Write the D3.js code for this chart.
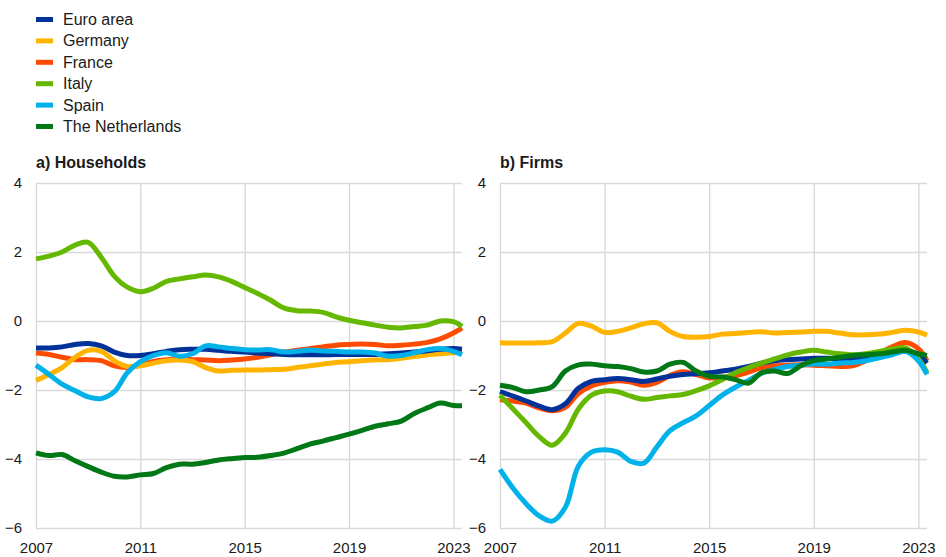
<!DOCTYPE html>
<html>
<head>
<meta charset="utf-8">
<script src="https://cdn.jsdelivr.net/npm/d3@7"></script>
<style>
  body { margin: 0; background: #fff; }
  svg { display: block; }
  text { font-family: Arial, "Liberation Sans", sans-serif; fill: #1a1a1a; }
</style>
</head>
<body>
<svg id="chart" width="946" height="557"></svg>
<script>
// Observation dates (decimal years, half-yearly, last point early 2023)
const periods = [2007.0, 2007.5, 2008.0, 2008.5, 2009.0, 2009.5, 2010.0, 2010.5,
  2011.0, 2011.5, 2012.0, 2012.5, 2013.0, 2013.5, 2014.0, 2014.5, 2015.0, 2015.5,
  2016.0, 2016.5, 2017.0, 2017.5, 2018.0, 2018.5, 2019.0, 2019.5, 2020.0, 2020.5,
  2021.0, 2021.5, 2022.0, 2022.5, 2023.0, 2023.33];

const seriesNames = ["Euro area", "Germany", "France", "Italy", "Spain", "The Netherlands"];
const seriesColors = ["#003299", "#ffb400", "#ff4b00", "#65b800", "#00b1ea", "#007816"];

const xTickValues = [2007, 2011, 2015, 2019, 2023];
const yTickValues = [-6, -4, -2, 0, 2, 4];

// a) Households
const hhEuroArea = [-0.78, -0.78, -0.75, -0.68, -0.65, -0.72, -0.9, -1.0, -1.0, -0.95, -0.88, -0.83,
  -0.82, -0.82, -0.85, -0.88, -0.9, -0.93, -0.95, -0.97, -0.98, -0.98, -0.98, -0.97, -0.97, -0.97,
  -0.97, -0.95, -0.93, -0.9, -0.86, -0.82, -0.8, -0.82];
const hhGermany = [-1.72, -1.55, -1.35, -1.05, -0.85, -0.88, -1.15, -1.32, -1.3, -1.22, -1.15, -1.13,
  -1.18, -1.35, -1.45, -1.43, -1.42, -1.42, -1.41, -1.4, -1.35, -1.3, -1.25, -1.2, -1.18, -1.15,
  -1.13, -1.12, -1.08, -1.03, -0.98, -0.95, -0.92, -0.88];
const hhFrance = [-0.93, -0.97, -1.05, -1.12, -1.12, -1.15, -1.3, -1.35, -1.28, -1.17, -1.12, -1.1,
  -1.12, -1.13, -1.15, -1.13, -1.1, -1.05, -0.98, -0.9, -0.85, -0.8, -0.75, -0.7, -0.68, -0.67,
  -0.68, -0.72, -0.7, -0.67, -0.62, -0.52, -0.35, -0.2];
const hhItaly = [1.8, 1.88, 2.0, 2.2, 2.28, 1.85, 1.3, 0.98, 0.85, 0.95, 1.15, 1.22, 1.28, 1.33,
  1.28, 1.15, 0.97, 0.8, 0.6, 0.38, 0.3, 0.29, 0.25, 0.12, 0.02, -0.05, -0.12, -0.18, -0.2, -0.16,
  -0.12, 0.0, -0.02, -0.16];
const hhSpain = [-1.28, -1.55, -1.83, -2.02, -2.2, -2.25, -2.05, -1.5, -1.18, -1.0, -0.92, -1.02,
  -0.95, -0.72, -0.75, -0.8, -0.83, -0.84, -0.83, -0.9, -0.88, -0.84, -0.87, -0.88, -0.9, -0.9,
  -0.93, -1.02, -1.0, -0.92, -0.83, -0.8, -0.88, -0.98];
const hhNetherlands = [-3.82, -3.9, -3.87, -4.05, -4.22, -4.38, -4.5, -4.52, -4.46, -4.42, -4.25,
  -4.15, -4.15, -4.1, -4.03, -3.99, -3.96, -3.95, -3.9, -3.83, -3.7, -3.57, -3.48, -3.38, -3.28,
  -3.17, -3.05, -2.98, -2.9, -2.68, -2.52, -2.38, -2.45, -2.46];

// b) Firms
const fmEuroArea = [-2.05, -2.18, -2.32, -2.47, -2.57, -2.4, -1.95, -1.75, -1.7, -1.67, -1.7, -1.75,
  -1.68, -1.6, -1.55, -1.53, -1.5, -1.45, -1.4, -1.32, -1.22, -1.15, -1.12, -1.1, -1.08, -1.08,
  -1.1, -1.1, -1.05, -0.98, -0.92, -0.88, -1.0, -1.22];
const fmGermany = [-0.63, -0.64, -0.64, -0.63, -0.6, -0.35, -0.07, -0.15, -0.33, -0.3, -0.2, -0.08,
  -0.05, -0.3, -0.45, -0.47, -0.45, -0.38, -0.36, -0.33, -0.31, -0.35, -0.33, -0.32, -0.3, -0.3,
  -0.35, -0.4, -0.4, -0.38, -0.33, -0.27, -0.32, -0.41];
const fmFrance = [-2.28, -2.32, -2.38, -2.52, -2.6, -2.5, -2.1, -1.88, -1.78, -1.73, -1.77, -1.86,
  -1.78, -1.58, -1.47, -1.55, -1.65, -1.63, -1.58, -1.48, -1.35, -1.3, -1.28, -1.27, -1.28, -1.3,
  -1.32, -1.3, -1.15, -0.95, -0.75, -0.62, -0.8, -1.15];
const fmItaly = [-2.15, -2.55, -2.95, -3.35, -3.6, -3.25, -2.55, -2.15, -2.03, -2.05, -2.18, -2.27,
  -2.22, -2.17, -2.13, -2.02, -1.88, -1.7, -1.5, -1.35, -1.22, -1.1, -0.98, -0.9, -0.85, -0.9,
  -0.95, -0.98, -0.95, -0.88, -0.82, -0.78, -1.1, -1.5];
const fmSpain = [-4.3, -4.85, -5.3, -5.65, -5.8, -5.4, -4.2, -3.8, -3.73, -3.8, -4.07, -4.12, -3.65,
  -3.18, -2.95, -2.75, -2.45, -2.15, -1.92, -1.72, -1.52, -1.4, -1.32, -1.28, -1.25, -1.25, -1.22,
  -1.2, -1.15, -1.07, -0.98, -0.88, -1.15, -1.55];
const fmNetherlands = [-1.86, -1.93, -2.05, -2.0, -1.9, -1.45, -1.27, -1.25, -1.3, -1.32, -1.38,
  -1.48, -1.45, -1.25, -1.2, -1.45, -1.6, -1.62, -1.7, -1.8, -1.5, -1.45, -1.52, -1.3, -1.15, -1.1,
  -1.05, -1.0, -0.98, -0.95, -0.9, -0.85, -0.95, -1.0];

const panels = [
  { title: "a) Households", left: 36, right: 462,
    series: [hhEuroArea, hhGermany, hhFrance, hhItaly, hhSpain, hhNetherlands] },
  { title: "b) Firms", left: 500, right: 927,
    series: [fmEuroArea, fmGermany, fmFrance, fmItaly, fmSpain, fmNetherlands] }
];

const plotTop = 183, plotBottom = 528;
const gridColor = "#d9d9d9";
// drawing order of the lines (back to front)
const drawOrder = [2, 1, 0, 3, 4, 5];

const svg = d3.select("#chart");

// Legend
const legend = svg.append("g").attr("transform", "translate(36,0)");
seriesNames.forEach((name, i) => {
  const row = legend.append("g").attr("transform", `translate(0,${25 + i * 21.4})`);
  row.append("rect").attr("x", 0).attr("y", -8).attr("width", 17).attr("height", 5)
    .attr("fill", seriesColors[i]);
  row.append("text").attr("x", 27).attr("y", 0).attr("font-size", 16).text(name);
});

panels.forEach(p => {
  const x = d3.scaleLinear().domain([2007, 2023.33]).range([p.left, p.right]);
  const y = d3.scaleLinear().domain([-6, 4]).range([plotBottom, plotTop]);
  const g = svg.append("g");

  g.append("text").attr("x", p.left).attr("y", 168)
    .attr("font-size", 16).attr("font-weight", "bold").text(p.title);

  const yAxis = g.append("g").attr("transform", `translate(${p.left},0)`)
    .call(d3.axisLeft(y).tickValues(yTickValues).tickSize(-(p.right - p.left)).tickPadding(14)
      .tickFormat(d3.format("d")));
  const xAxis = g.append("g").attr("transform", `translate(0,${plotBottom})`)
    .call(d3.axisBottom(x).tickValues(xTickValues).tickSize(-(plotBottom - plotTop)).tickPadding(14)
      .tickFormat(d3.format("d")));
  [yAxis, xAxis].forEach(a => {
    a.select(".domain").remove();
    a.selectAll(".tick line").attr("stroke", gridColor).attr("stroke-width", 1.4);
    a.selectAll(".tick text").attr("font-size", 15).attr("fill", "#1a1a1a")
      .attr("font-family", "Arial, 'Liberation Sans', sans-serif");
  });

  const line = d3.line()
    .x((d, i) => x(periods[i]))
    .y(d => y(d))
    .curve(d3.curveCatmullRom.alpha(0.5));

  drawOrder.forEach(k => {
    g.append("path")
      .datum(p.series[k])
      .attr("d", line)
      .attr("fill", "none")
      .attr("stroke", seriesColors[k])
      .attr("stroke-width", 5)
      .attr("stroke-linejoin", "round");
  });
});
</script>
</body>
</html>
